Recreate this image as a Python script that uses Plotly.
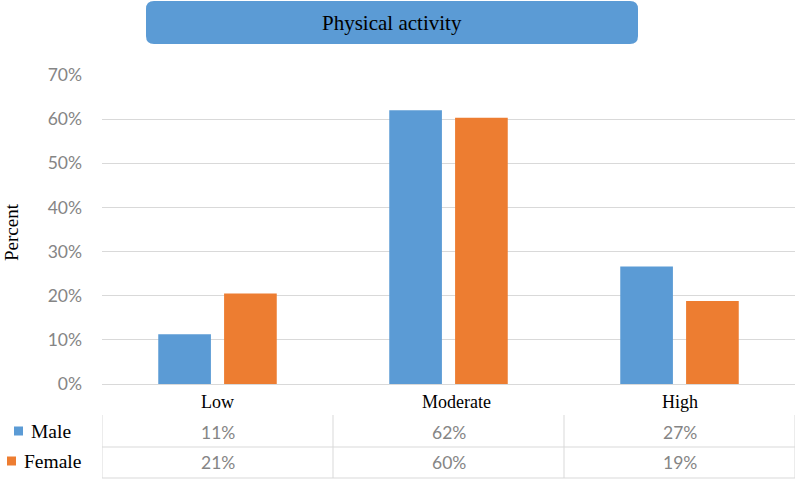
import plotly.graph_objects as go

# ---- data ----
categories = ["Low", "Moderate", "High"]
male_values = [0.113, 0.620, 0.266]
female_values = [0.205, 0.603, 0.188]
male_labels = ["11%", "62%", "27%"]
female_labels = ["21%", "60%", "19%"]
series_names = ["Male", "Female"]
title_text = "Physical activity"
y_title = "Percent"

W, H = 797, 481
BLUE = "#5B9BD5"
ORANGE = "#ED7D31"
GRID = "#D9D9D9"
GRAY = "#858585"
SERIF = "Liberation Serif, Times New Roman, serif"
SANS = "Lato, Carlito, Liberation Sans, sans-serif"

def px(x):
    return x / W

def py(y):
    return 1 - y / H

fig = go.Figure()
fig.add_trace(go.Bar(x=categories, y=male_values, name=series_names[0],
                     marker=dict(color=BLUE, line=dict(width=0)), showlegend=False))
fig.add_trace(go.Bar(x=categories, y=female_values, name=series_names[1],
                     marker=dict(color=ORANGE, line=dict(width=0)), showlegend=False))

shapes = []
annotations = []

# title box with rounded corners
x0, x1, y0, y1, r = px(146), px(638), py(44), py(1), 8
rx, ry = r / W, r / H
path = (f"M {x0+rx},{y1} L {x1-rx},{y1} Q {x1},{y1} {x1},{y1-ry} "
        f"L {x1},{y0+ry} Q {x1},{y0} {x1-rx},{y0} L {x0+rx},{y0} "
        f"Q {x0},{y0} {x0},{y0+ry} L {x0},{y1-ry} Q {x0},{y1} {x0+rx},{y1} Z")
shapes.append(dict(type="path", xref="paper", yref="paper", path=path,
                   fillcolor=BLUE, line=dict(width=0)))
annotations.append(dict(xref="paper", yref="paper", x=px(392), y=py(23),
                        text=title_text, showarrow=False,
                        font=dict(family=SERIF, size=21, color="black"),
                        xanchor="center", yanchor="middle"))

# y axis title
annotations.append(dict(xref="paper", yref="paper", x=px(11), y=py(232),
                        text=y_title, showarrow=False, textangle=-90,
                        font=dict(family=SERIF, size=19, color="black"),
                        xanchor="center", yanchor="middle", borderpad=0))

# data table: grid lines
n = len(categories)
for b in [i - 0.5 for i in range(n + 1)]:
    shapes.append(dict(type="line", xref="x", yref="paper", x0=b, x1=b,
                       y0=py(415), y1=py(478), line=dict(color=GRID, width=1)))
for yy in [447, 478]:
    shapes.append(dict(type="line", xref="x", yref="paper", x0=-0.5, x1=n - 0.5,
                       y0=py(yy), y1=py(yy), line=dict(color=GRID, width=1)))

# category labels
label_shift = {"Moderate": 8}
for c in categories:
    annotations.append(dict(xref="x", yref="paper", x=c, y=py(402), text=c,
                            showarrow=False, xshift=label_shift.get(c, 0),
                            font=dict(family=SERIF, size=18, color="black"),
                            xanchor="center", yanchor="middle"))

# table values
rows = [(male_labels, 432), (female_labels, 462)]
for labels, yy in rows:
    for c, t in zip(categories, labels):
        annotations.append(dict(xref="x", yref="paper", x=c, y=py(yy), text=t,
                                showarrow=False,
                                font=dict(family=SANS, size=17.5, color=GRAY),
                                xanchor="center", yanchor="middle"))

# legend keys in table
legend_rows = [(series_names[0], BLUE, 14, 29, 431), (series_names[1], ORANGE, 7, 22, 461)]
for name, col, kx, tx, yy in legend_rows:
    shapes.append(dict(type="rect", xref="paper", yref="paper",
                       x0=px(kx), x1=px(kx + 9), y0=py(yy + 4.5), y1=py(yy - 4.5),
                       fillcolor=col, line=dict(width=0)))
    annotations.append(dict(xref="paper", yref="paper", x=px(tx), y=py(yy),
                            text=name, showarrow=False,
                            font=dict(family=SERIF, size=19.5, color="black"),
                            xanchor="left", yanchor="middle"))

fig.update_layout(
    width=W, height=H,
    margin=dict(l=0, r=0, t=0, b=0, pad=0, autoexpand=False),
    paper_bgcolor="white", plot_bgcolor="white",
    barmode="group", bargap=0.43, bargroupgap=0.2,
    shapes=shapes, annotations=annotations,
    showlegend=False,
    xaxis=dict(domain=[px(102), px(795)], showticklabels=False, showgrid=False,
               zeroline=False, showline=False, ticks="", range=[-0.5, n - 0.5],
               automargin=False),
    yaxis=dict(domain=[py(384), py(75)], range=[0, 0.7001], tickformat=".0%",
               dtick=0.1, tick0=0, showgrid=True, gridcolor=GRID, gridwidth=1,
               zeroline=True, zerolinecolor=GRID, zerolinewidth=1,
               showline=False, ticks="", ticklabelstandoff=19, automargin=False,
               tickfont=dict(family=SANS, size=17.5, color=GRAY)),
)

fig.write_html("out.html", config={"displayModeBar": False},
               post_script="document.body.style.margin='0';document.body.style.overflow='hidden';")
